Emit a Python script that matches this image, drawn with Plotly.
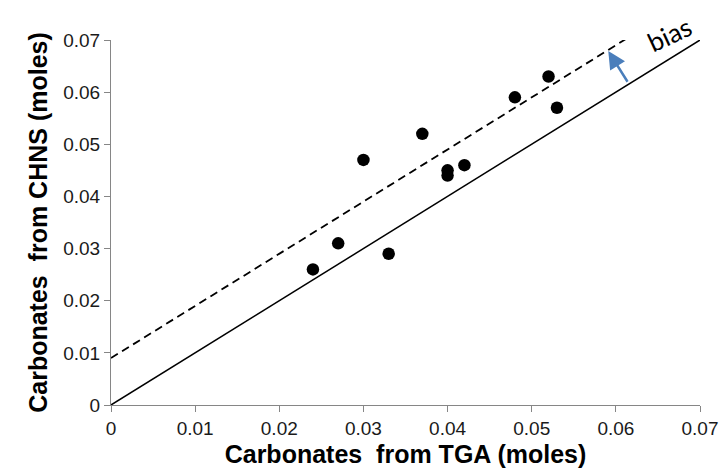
import plotly.graph_objects as go

# Data
tga = [0.024, 0.027, 0.030, 0.033, 0.037, 0.040, 0.040, 0.042, 0.048, 0.052, 0.053]
chns = [0.026, 0.031, 0.047, 0.029, 0.052, 0.045, 0.044, 0.046, 0.059, 0.063, 0.057]

identity_x = [0.0, 0.07]
identity_y = [0.0, 0.07]

bias_x = [0.0, 0.0615]
bias_y = [0.009, 0.0705]

arrow_tail = (0.0615, 0.0617)
arrow_head = (0.0591, 0.0679)

tick_vals = [0, 0.01, 0.02, 0.03, 0.04, 0.05, 0.06, 0.07]
tick_text = ["0", "0.01", "0.02", "0.03", "0.04", "0.05", "0.06", "0.07"]

fig = go.Figure()

fig.add_trace(go.Scatter(x=identity_x, y=identity_y, mode="lines",
                         line=dict(color="black", width=1.5), showlegend=False, cliponaxis=False))
fig.add_trace(go.Scatter(x=bias_x, y=bias_y, mode="lines",
                         line=dict(color="black", width=1.8, dash="8px,5px"), showlegend=False, cliponaxis=False))
fig.add_trace(go.Scatter(x=tga, y=chns, mode="markers",
                         marker=dict(color="black", size=12.5), showlegend=False, cliponaxis=False))

fig.add_annotation(x=arrow_head[0], y=arrow_head[1], ax=arrow_tail[0], ay=arrow_tail[1],
                   xref="x", yref="y", axref="x", ayref="y", text="", showarrow=True,
                   arrowhead=2, arrowsize=1.4, arrowwidth=2.5, arrowcolor="#4a7ebb")

fig.add_annotation(x=0.949, y=1.016, xref="paper", yref="paper", text="bias", showarrow=False,
                   xanchor="center", yanchor="middle", borderpad=0,
                   textangle=-25, font=dict(family="Lato, Open Sans, sans-serif", size=26, color="black"))

axis_common = dict(
    showgrid=False, zeroline=False, showline=True, linecolor="#868686", linewidth=1,
    ticks="outside", ticklen=6, tickcolor="#868686", tickwidth=1,
    tickvals=tick_vals, ticktext=tick_text,
    tickfont=dict(family="Liberation Sans, Arial, sans-serif", size=19, color="#1a1a1a"),
    range=[0, 0.07],
)

title_font = dict(family="Liberation Sans, Arial, sans-serif", size=25, color="black", weight="bold")

fig.update_xaxes(**axis_common,
                 title=dict(text="Carbonates\u00a0 from TGA (moles)", standoff=7, font=title_font))
fig.update_yaxes(**axis_common,
                 title=dict(text="Carbonates\u00a0 from CHNS (moles)", standoff=8, font=title_font))

# page body has an 8px default margin, so the figure is shifted by 8px
fig.update_layout(
    width=728, height=472,
    margin=dict(l=103, r=36, t=32, b=75),
    plot_bgcolor="white", paper_bgcolor="white",
)

fig.write_html("out.html", config={"displayModeBar": False})
